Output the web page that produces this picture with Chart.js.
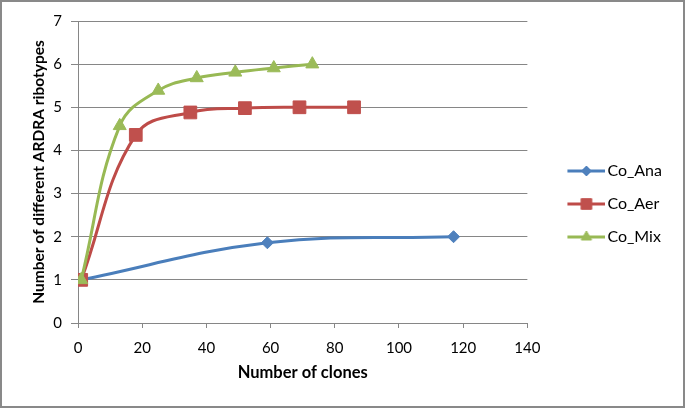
<!DOCTYPE html>
<html>
<head>
<meta charset="utf-8">
<script src="https://cdn.jsdelivr.net/npm/chart.js@4.4.1/dist/chart.umd.min.js"></script>
<style>
  body { margin: 0; background: #fff; }
  .frame { width: 685px; height: 408px; box-sizing: border-box; border: 2px solid #898989; background: #fff; position: relative; }
</style>
</head>
<body>
<div class="frame"><canvas id="chart"></canvas></div>
<script>
const seriesNames = ['Co_Ana', 'Co_Aer', 'Co_Mix'];
const anaClones = [1, 59, 117];
const anaTypes = [1, 1.86, 2];
const aerClones = [1, 18, 35, 52, 69, 86];
const aerTypes = [1, 4.36, 4.88, 4.98, 5, 5];
const mixClones = [1, 13, 25, 37, 49, 61, 73];
const mixTypes = [1, 4.57, 5.39, 5.68, 5.81, 5.91, 6];
const xTicks = [0, 20, 40, 60, 80, 100, 120, 140];
const yTicks = [0, 1, 2, 3, 4, 5, 6, 7];

const FONT = 'Lato';
const GRID = '#868686';

const toPoints = (xs, ys) => xs.map((x, i) => ({ x: x, y: ys[i] }));

// legend sample: short line with the marker in the middle.
// the picture is 6px wider than the legend box on each side
const ICON_BOX = 55;
function makeIcon(lineColor, fillColor, style, radius) {
  const c = document.createElement('canvas');
  c.width = ICON_BOX + 12;
  c.height = 16;
  const ctx = c.getContext('2d');
  ctx.strokeStyle = lineColor;
  ctx.lineWidth = 3;
  ctx.beginPath();
  ctx.moveTo(29, 8);
  ctx.lineTo(67, 8);
  ctx.stroke();
  ctx.fillStyle = fillColor;
  ctx.strokeStyle = fillColor;
  ctx.lineWidth = 1;
  Chart.helpers.drawPoint(ctx, { pointStyle: style, radius: radius, rotation: 0, borderWidth: 1 }, 48, 8);
  return c;
}

const styles = [
  { line: '#4A7EBB', fill: '#4F81BD', point: 'rectRot', radius: 6, legendRadius: 5 },
  { line: '#BE4B48', fill: '#C0504D', point: 'rect', radius: 9, legendRadius: 7.5 },
  { line: '#98B954', fill: '#9BBB59', point: 'triangle', radius: 7.5, legendRadius: 6 }
];
const seriesData = [
  toPoints(anaClones, anaTypes),
  toPoints(aerClones, aerTypes),
  toPoints(mixClones, mixTypes)
];
const icons = styles.map(s => makeIcon(s.line, s.fill, s.point, s.legendRadius));

const datasets = seriesNames.map((name, i) => ({
  label: name,
  data: seriesData[i],
  borderColor: styles[i].line,
  borderWidth: 3,
  backgroundColor: styles[i].fill,
  pointBackgroundColor: styles[i].fill,
  pointBorderColor: styles[i].fill,
  pointBorderWidth: 1,
  pointStyle: styles[i].point,
  pointRadius: styles[i].radius,
  pointHoverRadius: styles[i].radius,
  tension: 0.4,
  fill: false,
  order: seriesNames.length - i
}));

new Chart(document.getElementById('chart'), {
  type: 'line',
  data: { datasets },
  options: {
    responsive: true,
    maintainAspectRatio: false,
    animation: false,
    layout: { padding: { left: 2, top: 0, right: 11, bottom: 0 } },
    plugins: {
      tooltip: { enabled: false },
      // empty title only reserves the space above the plot, not above the legend
      title: {
        display: true,
        text: '',
        fullSize: false,
        font: { family: FONT, size: 10 },
        padding: { top: 7, bottom: 0 }
      },
      legend: {
        position: 'right',
        labels: {
          usePointStyle: true,
          pointStyleWidth: ICON_BOX,
          padding: 17,
          color: '#000',
          font: { family: FONT, size: 16 },
          generateLabels: (chart) => chart.data.datasets.map((ds, i) => ({
            text: ds.label,
            pointStyle: icons[i],
            datasetIndex: i,
            fontColor: '#000',
            fillStyle: 'transparent',
            strokeStyle: 'transparent',
            lineWidth: 0,
            hidden: false
          }))
        }
      }
    },
    scales: {
      x: {
        type: 'linear',
        min: 0,
        max: 140,
        afterBuildTicks: (axis) => { axis.ticks = xTicks.map(v => ({ value: v })); },
        afterFit: (axis) => { axis.height = 83; },
        ticks: { color: '#000', font: { family: FONT, size: 15 }, padding: 11 },
        grid: { drawOnChartArea: false, drawTicks: true, tickLength: 5, color: GRID },
        border: { color: GRID },
        title: {
          display: true,
          text: 'Number of clones',
          color: '#000',
          font: { family: FONT, size: 16.5, weight: 'bold' },
          padding: { top: 0, bottom: 23 }
        }
      },
      y: {
        min: 0,
        max: 7,
        afterBuildTicks: (axis) => { axis.ticks = yTicks.map(v => ({ value: v })); },
        afterFit: (axis) => { axis.width = 74; },
        ticks: { color: '#000', font: { family: FONT, size: 15 }, padding: 9 },
        grid: { color: GRID, tickLength: 7 },
        border: { color: GRID },
        title: {
          display: true,
          text: 'Number of different ARDRA ribotypes',
          color: '#000',
          font: { family: FONT, size: 15.5, weight: 'bold' },
          padding: { top: 26, bottom: 0 }
        }
      }
    }
  }
});
</script>
</body>
</html>
